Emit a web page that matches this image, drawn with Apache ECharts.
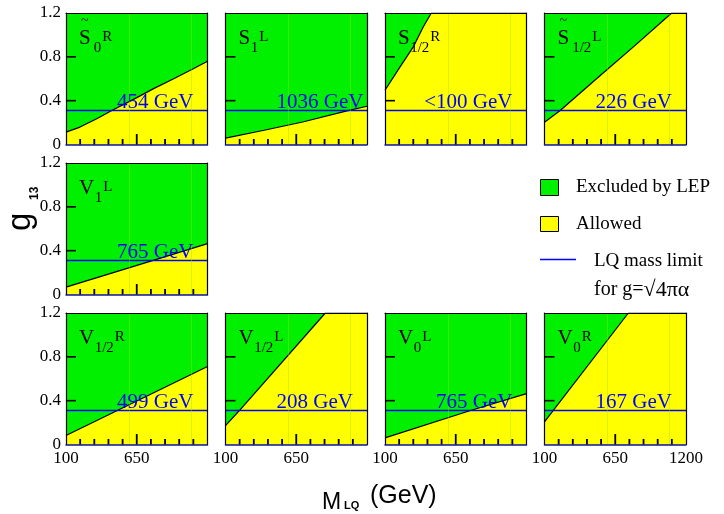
<!DOCTYPE html>
<html><head><meta charset="utf-8">
<script src="https://cdn.jsdelivr.net/npm/echarts@6/dist/echarts.min.js"></script>
<style>html,body{margin:0;padding:0;background:#fff}#c{width:724px;height:514px}</style>
</head><body><div id="c"></div>
<script>
// ---------------- data ----------------
const panelMain  = ['S','S','S','S','V','V','V','V','V'];
const panelTilde = [true,false,false,true,false,false,false,false,false];
const panelSub   = ['0','1','1/2','1/2','1','1/2','1/2','0','0'];
const panelSup   = ['R','L','R','L','L','R','L','L','R'];
const massLimits = ['454 GeV','1036 GeV','<100 GeV','226 GeV','765 GeV','499 GeV','208 GeV','765 GeV','167 GeV'];

// boundary g13(M) between excluded (above) and allowed (below)
const bndS0tR  = [[100,0.113],[209,0.159],[339,0.235],[456,0.311],[625,0.412],[781,0.51],[937,0.60],[1093,0.693],[1200,0.76]];
const bndS1L   = [[100,0.058],[400,0.13],[700,0.205],[1036,0.305],[1200,0.349]];
const bndS12R  = [[100,0.495],[217,0.708],[320,0.891],[398,1.074],[460,1.2],[1200,1.2]];
const bndS12tL = [[100,0.204],[222,0.31],[500,0.595],[800,0.9],[1089,1.2],[1200,1.2]];
const bndV1L   = [[100,0.067],[765,0.307],[1200,0.464]];
const bndV12R  = [[100,0.082],[499,0.31],[1200,0.712]];
const bndV12L  = [[100,0.173],[208,0.31],[876,1.2],[1200,1.2]];
const bndV0L   = [[100,0.061],[765,0.31],[1200,0.464]];
const bndV0R   = [[100,0.206],[167,0.31],[752,1.2],[1200,1.2]];
const boundaries = [bndS0tR,bndS1L,bndS12R,bndS12tL,bndV1L,bndV12R,bndV12L,bndV0L,bndV0R];

const gLimit = 0.31;            // g = sqrt(4*pi*alpha)
const xRange = [100, 1200];
const yRange = [0, 1.2];
const xMajorStep = 550;         // labels 100, 650, 1200
const yStep = 0.4;              // labels 0, 0.4, 0.8, 1.2
const xTicksMajor = [650];
const xTicksMinor = [210, 320, 430, 540, 760, 870, 980, 1090];
const yTicksMajor = [0.4, 0.8];
const faintLines = [588, 1072];

// ---------------- layout / style ----------------
const GREEN = '#00f000', YELLOW = '#ffff00', BLUE = '#0000ff';
const SERIF = '"Liberation Serif", "Times New Roman", serif';
const SANS = '"Liberation Sans", Arial, sans-serif';
const colLeft = [66, 225.5, 385, 544.5], rowTop = [13, 163, 313];
const PW = 141.5, PH = 131.5;
const panelPos = [[0,0],[0,1],[0,2],[0,3],[1,0],[2,0],[2,1],[2,2],[2,3]];

const grids = [], xAxes = [], yAxes = [], series = [];
panelPos.forEach(([r, c], i) => {
  grids.push({left: colLeft[c], top: rowTop[r], width: PW, height: PH, show: true,
    backgroundColor: GREEN, borderWidth: 0, z: 0});
  xAxes.push({gridIndex: i, type: 'value', min: xRange[0], max: xRange[1], interval: xMajorStep, position: 'bottom', z: 5,
    axisLine: {show: true, onZero: false, lineStyle: {color: '#14149a', width: 1.5}},
    axisTick: {show: false},
    axisLabel: {show: r === 2, showMinLabel: true, showMaxLabel: true, margin: 6, fontSize: 17, color: '#000', fontFamily: SERIF,
      formatter: v => (v === xRange[1] && c !== 3) ? '' : String(v)},
    splitLine: {show: false}});
  xAxes.push({gridIndex: i, type: 'value', min: xRange[0], max: xRange[1], position: 'top', z: 5,
    axisLine: {show: true, onZero: false, lineStyle: {color: '#000', width: 1.2}},
    axisTick: {show: false}, axisLabel: {show: false}, splitLine: {show: false}});
  yAxes.push({gridIndex: i, type: 'value', min: yRange[0], max: yRange[1], interval: yStep, position: 'left', z: 5,
    axisLine: {show: true, onZero: false, lineStyle: {color: '#000', width: 1.2}},
    axisTick: {show: false},
    axisLabel: {show: c === 0, showMinLabel: true, showMaxLabel: true, margin: 5, fontSize: 17, color: '#000', fontFamily: SERIF,
      formatter: v => String(+(+v).toFixed(1))},
    splitLine: {show: false}});
  yAxes.push({gridIndex: i, type: 'value', min: yRange[0], max: yRange[1], position: 'right', z: 5,
    axisLine: {show: true, onZero: false, lineStyle: {color: '#000', width: 1.2}},
    axisTick: {show: false}, axisLabel: {show: false}, splitLine: {show: false}});

  series.push({type: 'line', xAxisIndex: 2*i, yAxisIndex: 2*i, data: boundaries[i], symbol: 'none',
    lineStyle: {color: '#000', width: 1.2}, areaStyle: {color: YELLOW, opacity: 1, origin: 'start'},
    z: 2, silent: true, animation: false,
    markLine: {silent: true, symbol: 'none', animation: false, label: {show: false},
      lineStyle: {color: '#9fe000', width: 1, type: 'solid', opacity: 0.4},
      data: faintLines.map(v => ({xAxis: v}))}});
  series.push({type: 'line', xAxisIndex: 2*i, yAxisIndex: 2*i, data: [[xRange[0], gLimit], [xRange[1], gLimit]],
    symbol: 'none', lineStyle: {color: BLUE, width: 1.4}, z: 3, silent: true, animation: false});
});

const chart = echarts.init(document.getElementById('c'), null, {renderer: 'canvas', width: 724, height: 514});
chart.setOption({animation: false, textStyle: {fontFamily: SERIF},
  grid: grids, xAxis: xAxes, yAxis: yAxes, series: series});

// ---------------- text decorations & ticks ----------------
const mctx = document.createElement('canvas').getContext('2d');
function tw(text, size, family, weight) {
  mctx.font = (weight || 'normal') + ' ' + size + 'px ' + family;
  return mctx.measureText(text).width;
}
function txt(text, x, y, size, opts) {
  opts = opts || {};
  return {type: 'text', x: x, y: y, silent: true, z: 20,
    style: {text: text, fill: opts.color || '#000', align: opts.align || 'left', verticalAlign: 'middle',
      font: (opts.weight || 'normal') + ' ' + size + 'px ' + (opts.family || SERIF)}};
}
function seg(x1, y1, x2, y2, color, w) {
  return {type: 'line', silent: true, z: 30, shape: {x1: x1, y1: y1, x2: x2, y2: y2},
    style: {stroke: color || '#000', lineWidth: w || 1}};
}

const gfx = [];
panelPos.forEach(([r, c], i) => {
  const L = colLeft[c], T = rowTop[r];
  const finder = {xAxisIndex: 2*i, yAxisIndex: 2*i};
  // ticks through the axis scales
  xTicksMajor.forEach(v => { const p = chart.convertToPixel(finder, [v, yRange[0]]); gfx.push(seg(p[0], p[1], p[0], p[1] - 10.5, '#000', 1.8)); });
  xTicksMinor.forEach(v => { const p = chart.convertToPixel(finder, [v, yRange[0]]); gfx.push(seg(p[0], p[1], p[0], p[1] - 5.5, '#000', 1.8)); });
  yTicksMajor.forEach(v => { const p = chart.convertToPixel(finder, [xRange[0], v]); gfx.push(seg(p[0], p[1], p[0] + 10, p[1], '#000', 1.6)); });

  const mainW = tw(panelMain[i], 21, SERIF);
  gfx.push(txt(panelMain[i], L + 13, T + 25, 21));
  if (panelTilde[i]) gfx.push(txt('~', L + 13 + mainW / 2, T + 8, 14, {align: 'center'}));
  const subX = L + 13 + mainW + (panelTilde[i] ? 3 : 0.5);
  gfx.push(txt(panelSub[i], subX, T + 35, 15));
  const supX = subX + tw(panelSub[i], 15, SERIF) + 1;
  gfx.push(txt(panelSup[i], supX, T + 23.6, 15));

  const yLine = chart.convertToPixel(finder, [xRange[0], gLimit])[1];
  const lab = massLimits[i];
  const lx = L + 51 - (lab[0] === '<' ? tw('<', 21, SERIF) : 0);
  gfx.push(txt(lab, lx, yLine - 8.4, 21, {color: BLUE}));
});

// legend
gfx.push({type: 'rect', shape: {x: 540.5, y: 179.5, width: 18, height: 16}, style: {fill: GREEN, stroke: '#000', lineWidth: 1}, z: 20});
gfx.push(txt('Excluded by LEP', 576, 187.5, 19));
gfx.push({type: 'rect', shape: {x: 540.5, y: 216.5, width: 18, height: 15}, style: {fill: YELLOW, stroke: '#000', lineWidth: 1}, z: 20});
gfx.push(txt('Allowed', 576, 224, 19));
gfx.push(seg(540, 259.5, 576, 259.5, BLUE, 1.4));
gfx.push(txt('LQ mass limit', 594, 261, 19));
gfx.push({type: 'text', x: 594, y: 290, z: 20, silent: true,
  style: {text: '{a|for g=}{b|√4πα}', verticalAlign: 'middle', align: 'left',
    rich: {a: {fontSize: 20, fontFamily: SERIF, fill: '#000'}, b: {fontSize: 22, fontFamily: SERIF, fill: '#000'}}}});

// axis titles
gfx.push({type: 'group', x: 21, y: 231, rotation: Math.PI / 2, z: 20, silent: true, children: [
  {type: 'text', x: 0, y: 0, style: {text: 'g', font: 'normal 33px ' + SANS, verticalAlign: 'middle', align: 'left', fill: '#000'}},
  {type: 'text', x: 31, y: 14, style: {text: '13', font: 'bold 12px ' + SANS, verticalAlign: 'middle', align: 'left', fill: '#000'}}
]});
gfx.push(txt('M', 322, 503, 23, {family: SANS}));
gfx.push(txt('LQ', 344, 506, 11, {family: SANS, weight: 'bold'}));
gfx.push(txt('(GeV)', 370, 496.3, 25, {family: SANS}));

chart.setOption({graphic: gfx});
</script>
</body></html>
